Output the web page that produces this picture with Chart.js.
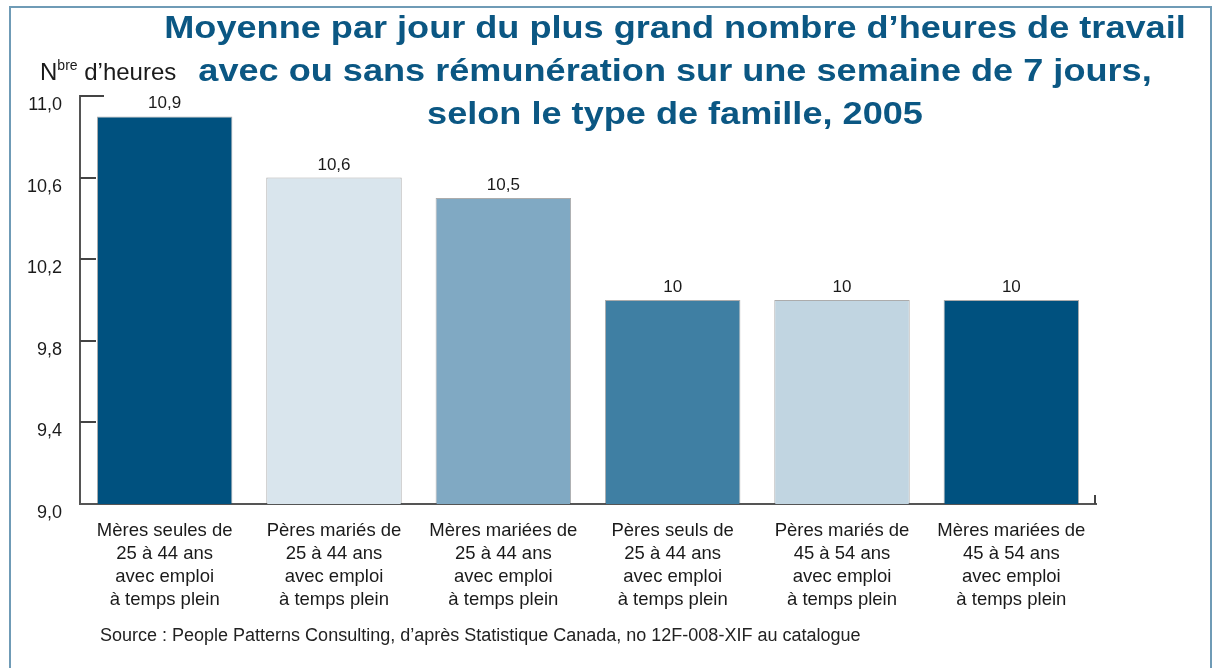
<!DOCTYPE html>
<html lang="fr">
<head>
<meta charset="utf-8">
<script src="https://cdn.jsdelivr.net/npm/chart.js@4/dist/chart.umd.min.js"></script>
<style>
  body { margin: 0; background: #fff; font-family: "Liberation Sans", Arial, sans-serif; }
  #wrap { position: relative; width: 1212px; height: 668px; overflow: hidden; }
  #frame { position: absolute; left: 9px; top: 6px; width: 1199px; height: 700px;
           border: 2px solid #6f9bb6; border-bottom: none; }
  #title { position: absolute; left: 175px; width: 1000px; top: 6px; text-align: center;
           font-weight: bold; font-size: 31px; line-height: 43px; color: #0b5783;
           transform: scaleX(1.165); transform-origin: 500px 0; }
  #unit { position: absolute; left: 40px; top: 57px; font-size: 24px; color: #1a1a1a; }
  #unit sup { font-size: 14px; vertical-align: 10px; }
  #source { position: absolute; left: 100px; top: 625px; font-size: 18px; color: #222; }
  canvas { position: absolute; left: 0; top: 0; }
</style>
</head>
<body>
<div id="wrap">
  <canvas id="chart" width="1212" height="668"></canvas>
  <div id="frame"></div>
  <div id="title">Moyenne par jour du plus grand nombre d’heures de travail<br>avec ou sans rémunération sur une semaine de 7 jours,<br>selon le type de famille, 2005</div>
  <div id="unit">N<sup>bre</sup> d’heures</div>
  <div id="source">Source : People Patterns Consulting, d’après Statistique Canada, no 12F-008-XIF au catalogue</div>
</div>
<script>
// categories (types de famille)
const categories = [
  ['Mères seules de', '25 à 44 ans', 'avec emploi', 'à temps plein'],
  ['Pères mariés de', '25 à 44 ans', 'avec emploi', 'à temps plein'],
  ['Mères mariées de', '25 à 44 ans', 'avec emploi', 'à temps plein'],
  ['Pères seuls de', '25 à 44 ans', 'avec emploi', 'à temps plein'],
  ['Pères mariés de', '45 à 54 ans', 'avec emploi', 'à temps plein'],
  ['Mères mariées de', '45 à 54 ans', 'avec emploi', 'à temps plein']
];
// heures par jour
const heures = [10.9, 10.6, 10.5, 10, 10, 10];
const barColors = ['#00517f', '#d9e5ed', '#80a9c3', '#3f7fa3', '#c1d5e1', '#00517f'];
// graduations de l'axe
const yTicks = [9.0, 9.4, 9.8, 10.2, 10.6, 11.0];

const fmt = v => String(v).replace('.', ',');

// petites graduations vers l'intérieur + étiquettes de valeur
const decor = {
  id: 'decor',
  afterDraw(chart) {
    const ctx = chart.ctx, area = chart.chartArea, y = chart.scales.y;
    ctx.save();
    ctx.strokeStyle = '#444';
    ctx.lineWidth = 2;
    yTicks.forEach(v => {
      if (v === yTicks[0]) return;
      const py = Math.round(y.getPixelForValue(v));
      const len = v === yTicks[yTicks.length - 1] ? 24 : 16;
      ctx.beginPath();
      ctx.moveTo(area.left, py);
      ctx.lineTo(area.left + len, py);
      ctx.stroke();
    });
    // petite marque en fin d'axe horizontal
    ctx.beginPath();
    ctx.moveTo(area.right - 1, area.bottom);
    ctx.lineTo(area.right - 1, area.bottom - 9);
    ctx.stroke();

    ctx.fillStyle = '#1a1a1a';
    ctx.font = '17px "Liberation Sans", Arial, sans-serif';
    ctx.textAlign = 'center';
    ctx.textBaseline = 'alphabetic';
    chart.getDatasetMeta(0).data.forEach((bar, i) => {
      ctx.fillText(fmt(heures[i]), bar.x, bar.y - 8);
    });
    ctx.restore();
  }
};

new Chart(document.getElementById('chart'), {
  type: 'bar',
  data: {
    labels: categories,
    datasets: [{
      data: heures,
      backgroundColor: barColors,
      borderColor: 'rgba(70,70,70,0.45)',
      borderWidth: 1,
      barPercentage: 0.8,
      categoryPercentage: 1
    }]
  },
  options: {
    responsive: false,
    animation: false,
    layout: { padding: { top: 96, right: 116, left: 0, bottom: 0 } },
    plugins: { legend: { display: false }, tooltip: { enabled: false } },
    scales: {
      x: {
        grid: { display: false, drawTicks: false },
        border: { display: true, color: '#555', width: 2 },
        ticks: {
          color: '#1a1a1a',
          padding: 16,
          font: { family: '"Liberation Sans", Arial, sans-serif', size: 18.5, lineHeight: 1.23 },
          maxRotation: 0,
          autoSkip: false
        },
        afterFit: s => { s.height = 164; }
      },
      y: {
        min: 9,
        max: 11,
        afterBuildTicks: s => { s.ticks = yTicks.map(v => ({ value: v })); },
        grid: { display: false, drawTicks: false },
        border: { display: true, color: '#555', width: 2 },
        ticks: {
          color: '#1a1a1a',
          padding: 18,
          labelOffset: 9,
          font: { family: '"Liberation Sans", Arial, sans-serif', size: 18 },
          callback: v => v.toFixed(1).replace('.', ',')
        },
        afterFit: s => { s.width = 80; }
      }
    }
  },
  plugins: [decor]
});
</script>
</body>
</html>
